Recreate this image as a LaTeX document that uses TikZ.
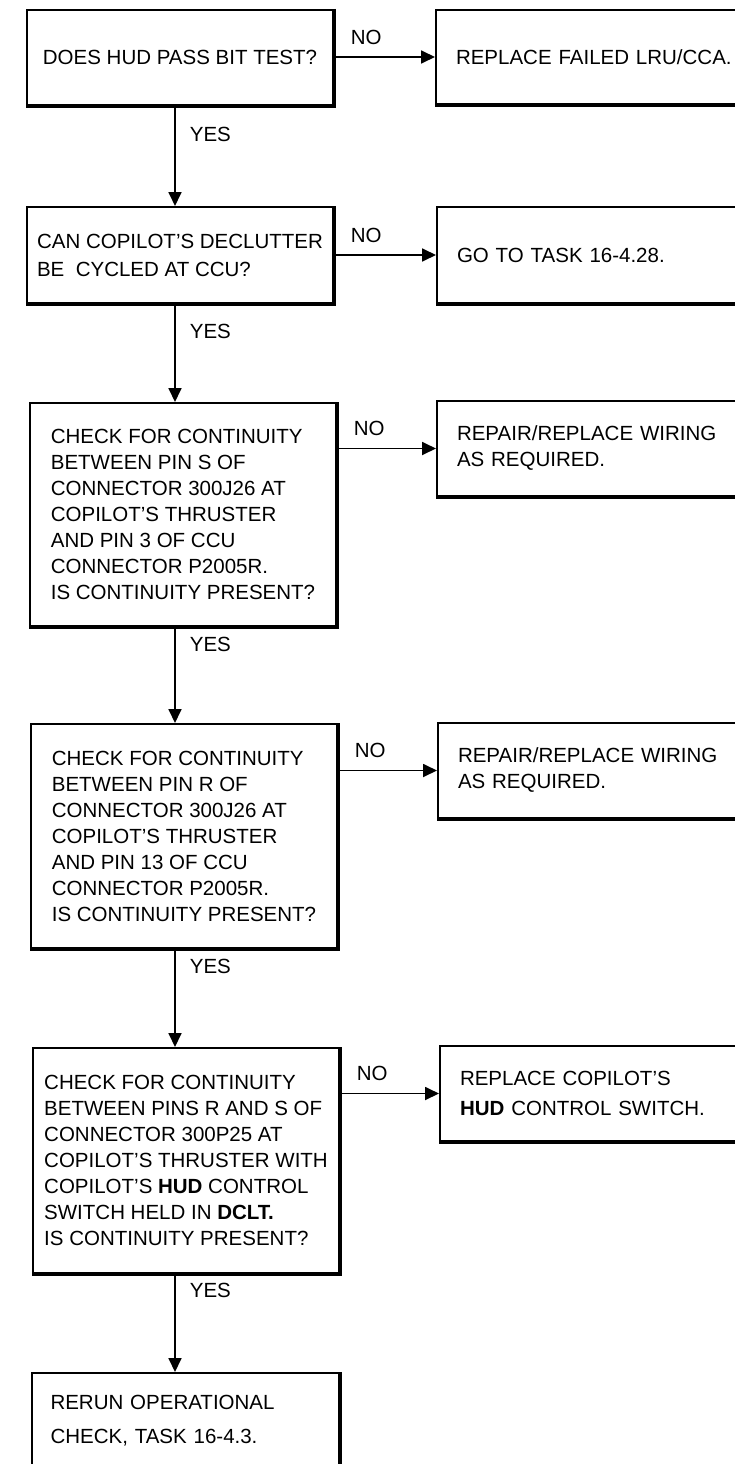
\documentclass[tikz,border=0pt]{standalone}
\usepackage{fontspec}
\setmainfont{Liberation Sans}
\usetikzlibrary{arrows.meta}
\tikzset{hudflow/.style={x=1pt,y=-1pt,font=\fontsize{20.5}{26}\selectfont},
  qbox/.style={draw,line width=2pt,align=left,minimum width=306pt,inner sep=0pt,anchor=north west},
  abox/.style={draw,line width=2pt,align=left,minimum width=324pt,text width=284pt,inner xsep=20pt,inner ysep=0pt,anchor=north west},
  flowarrow/.style={line width=1.8pt,-{Triangle[length=14pt,width=13pt]}},
  yes/.style={inner sep=0pt,anchor=west,xshift=14pt},
  no/.style={inner sep=0pt,anchor=west,pos=0,xshift=16pt,yshift=20pt}}

\begin{document}
\begin{tikzpicture}[hudflow]
    \useasboundingbox (0,0) rectangle (735,1464);
    \coordinate (spine) at (175,0);
    % questions (left column)
    \node[qbox,minimum height=95pt] (b1) at (26,9) {DOES HUD PASS BIT TEST?};
    \node[qbox,minimum height=96pt,font=\fontsize{20.5}{28}\selectfont] (b2) at (26,206) {CAN COPILOT'S DECLUTTER\\BE\ \ CYCLED AT CCU?};
    \node[qbox,minimum height=223pt] (b3) at (29,402) {CHECK FOR CONTINUITY\\BETWEEN PIN S OF\\CONNECTOR 300J26 AT\\COPILOT'S THRUSTER\\AND PIN 3 OF CCU\\CONNECTOR P2005R.\\IS CONTINUITY PRESENT?};
    \node[qbox,minimum height=224pt] (b4) at (30,723) {CHECK FOR CONTINUITY\\BETWEEN PIN R OF\\CONNECTOR 300J26 AT\\COPILOT'S THRUSTER\\AND PIN 13 OF CCU\\CONNECTOR P2005R.\\IS CONTINUITY PRESENT?};
    \node[qbox,minimum height=225pt] (b5) at (32,1047) {CHECK FOR CONTINUITY\\BETWEEN PINS R AND S OF\\CONNECTOR 300P25 AT\\COPILOT'S THRUSTER WITH\\COPILOT'S \textbf{HUD} CONTROL\\SWITCH HELD IN \textbf{DCLT.}\\IS CONTINUITY PRESENT?};
    \node[qbox,minimum height=96pt,text width=270pt,inner xsep=18.5pt,font=\fontsize{20.5}{34}\selectfont] (b6) at (31,1372) {RERUN OPERATIONAL\\CHECK, TASK 16-4.3.};
    % actions (right column, cut at page edge)
    \node[abox,minimum height=94pt] (r1) at (435,9) {REPLACE FAILED LRU/CCA.};
    \node[abox,minimum height=96pt] (r2) at (436,206) {GO TO TASK 16-4.28.};
    \node[abox,minimum height=95pt] (r3) at (436,400) {REPAIR/REPLACE WIRING\\AS REQUIRED.};
    \node[abox,minimum height=95pt] (r4) at (437,722) {REPAIR/REPLACE WIRING\\AS REQUIRED.};
    \node[abox,minimum height=95pt,font=\fontsize{20.5}{30}\selectfont] (r5) at (439,1045) {REPLACE COPILOT'S\\\textbf{HUD} CONTROL SWITCH.};
    \foreach \b in {b1,b2,b3,b4,b5,b6,r1,r2,r3,r4,r5}
      \draw[line width=4pt] (\b.north east) -- (\b.south east) -- (\b.south west);   % heavy edges
    % YES branches
    \draw[flowarrow] (b1.south -| spine) -- (b2.north -| spine) node[yes,pos=0.28] {YES};
    \draw[flowarrow] (b2.south -| spine) -- (b3.north -| spine) node[yes,pos=0.28] {YES};
    \draw[flowarrow] (b3.south -| spine) -- (b4.north -| spine) node[yes,pos=0.18] {YES};
    \draw[flowarrow] (b4.south -| spine) -- (b5.north -| spine) node[yes,pos=0.18] {YES};
    \draw[flowarrow] (b5.south -| spine) -- (b6.north -| spine) node[yes,pos=0.17] {YES};
    % NO branches
    \draw[flowarrow] (b1.east |- r1.west) -- (r1.west) node[no] {NO};
    \draw[flowarrow] (b2.east |- r2.west) -- (r2.west) node[no] {NO};
    \draw[flowarrow] (b3.east |- r3.west) -- (r3.west) node[no] {NO};
    \draw[flowarrow] (b4.east |- r4.west) -- (r4.west) node[no] {NO};
    \draw[flowarrow] (b5.east |- r5.west) -- (r5.west) node[no] {NO};
\end{tikzpicture}
\end{document}
